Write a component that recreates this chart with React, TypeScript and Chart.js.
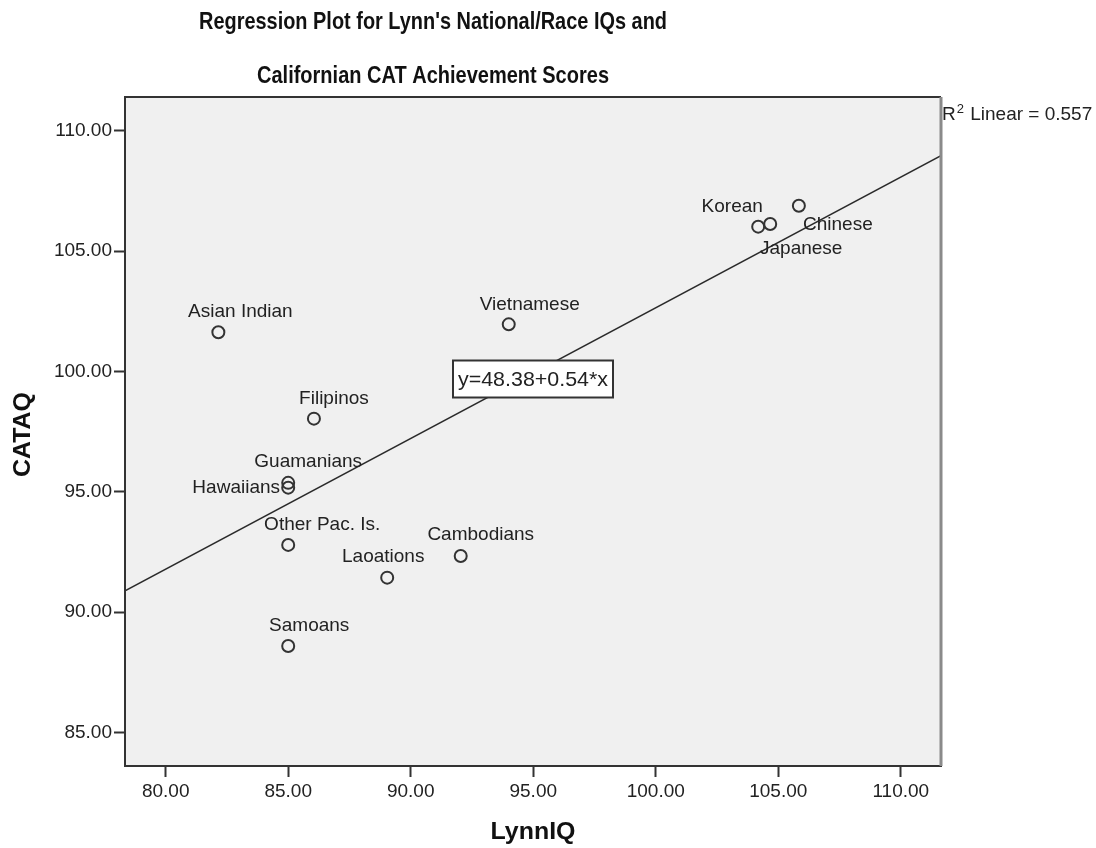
import React, { useEffect, useRef } from "react";
import { Chart, registerables } from "chart.js";

Chart.register(...registerables);

const GROUPS = [
  "Asian Indian",
  "Filipinos",
  "Vietnamese",
  "Guamanians",
  "Hawaiians",
  "Other Pac. Is.",
  "Laoations",
  "Cambodians",
  "Samoans",
  "Korean",
  "Japanese",
  "Chinese",
];
const LYNN_IQ = [82.15, 86.05, 94.0, 85.0, 85.0, 85.0, 89.04, 92.04, 85.0, 104.18, 104.67, 105.84];
const CATAQ = [101.63, 98.04, 101.96, 95.37, 95.17, 92.79, 91.43, 92.33, 88.59, 106.02, 106.13, 106.89];

// label placement (pixel offset of label centre from its point)
const LABEL_OFFSETS: [number, number][] = [
  [22, -21],
  [20, -20],
  [21, -20],
  [20, -21],
  [-52, 0],
  [34, -20],
  [-4, -21],
  [20, -21],
  [21, -20],
  [-26, -20],
  [31, 25],
  [39, 19],
];

const X_TICKS = [80, 85, 90, 95, 100, 105, 110];
const Y_TICKS = [85, 90, 95, 100, 105, 110];
const X_MIN = 78.34;
const X_MAX = 111.64;
const Y_MIN = 83.6;
const Y_MAX = 111.41;

const TITLE_LINES = ["Regression Plot for Lynn's National/Race IQs and", "Californian CAT Achievement Scores"];
const X_TITLE = "LynnIQ";
const Y_TITLE = "CATAQ";
const EQUATION = "y=48.38+0.54*x";
const R2_TEXT = " Linear = 0.557";

const FONT = "'Liberation Sans', Arial, sans-serif";

function ols(xs: number[], ys: number[]) {
  const n = xs.length;
  const mx = xs.reduce((a, b) => a + b, 0) / n;
  const my = ys.reduce((a, b) => a + b, 0) / n;
  let sxy = 0,
    sxx = 0;
  for (let i = 0; i < n; i++) {
    sxy += (xs[i] - mx) * (ys[i] - my);
    sxx += (xs[i] - mx) * (xs[i] - mx);
  }
  const b = sxy / sxx;
  return { a: my - b * mx, b };
}

function fitText(ctx: CanvasRenderingContext2D, text: string, cx: number, cy: number, width: number) {
  const w = ctx.measureText(text).width;
  ctx.save();
  ctx.translate(cx, cy);
  ctx.scale(width / w, 1);
  ctx.textAlign = "center";
  ctx.fillText(text, 0, 0);
  ctx.restore();
}

export default function App() {
  const ref = useRef<HTMLCanvasElement | null>(null);

  useEffect(() => {
    document.body.style.margin = "0";
    const canvas = ref.current!;
    const { a, b } = ols(LYNN_IQ, CATAQ);

    const decor = {
      id: "decor",
      beforeDatasetsDraw(chart: any) {
        const { ctx, chartArea: ca } = chart;
        ctx.save();
        ctx.fillStyle = "#f0f0f0";
        ctx.fillRect(ca.left, ca.top, ca.right - ca.left, ca.bottom - ca.top);
        ctx.restore();
      },
      afterDatasetsDraw(chart: any) {
        const { ctx, chartArea: ca } = chart;
        const meta = chart.getDatasetMeta(0);
        ctx.save();
        ctx.fillStyle = "#222";
        ctx.font = `19px ${FONT}`;
        ctx.textAlign = "center";
        ctx.textBaseline = "middle";
        meta.data.forEach((pt: any, i: number) => {
          const [dx, dy] = LABEL_OFFSETS[i];
          ctx.fillText(GROUPS[i], pt.x + dx, pt.y + dy);
        });

        // equation box
        const cx = (ca.left + ca.right) / 2;
        const cy = ca.top + 282;
        ctx.font = `21px ${FONT}`;
        const bw = 160,
          bh = 37;
        ctx.fillStyle = "#ffffff";
        ctx.fillRect(cx - bw / 2, cy - bh / 2, bw, bh);
        ctx.strokeStyle = "#333";
        ctx.lineWidth = 2;
        ctx.strokeRect(cx - bw / 2, cy - bh / 2, bw, bh);
        ctx.fillStyle = "#222";
        fitText(ctx, EQUATION, cx, cy + 1, 150);

        // frame
        ctx.strokeStyle = "#333";
        ctx.lineWidth = 2;
        ctx.beginPath();
        ctx.moveTo(ca.left, ca.bottom);
        ctx.lineTo(ca.left, ca.top);
        ctx.lineTo(ca.right, ca.top);
        ctx.stroke();
        ctx.beginPath();
        ctx.moveTo(ca.left, ca.bottom);
        ctx.lineTo(ca.right, ca.bottom);
        ctx.stroke();
        ctx.strokeStyle = "#8a8a8a";
        ctx.lineWidth = 3;
        ctx.beginPath();
        ctx.moveTo(ca.right, ca.top);
        ctx.lineTo(ca.right, ca.bottom);
        ctx.stroke();
        ctx.restore();
      },
      afterDraw(chart: any) {
        const { ctx, chartArea: ca } = chart;
        ctx.save();
        ctx.fillStyle = "#111";
        ctx.textBaseline = "alphabetic";
        ctx.font = `bold 24px ${FONT}`;
        fitText(ctx, TITLE_LINES[0], 433, 29, 468);
        fitText(ctx, TITLE_LINES[1], 433, 83, 352);

        ctx.textBaseline = "middle";
        ctx.font = `bold 24px ${FONT}`;
        fitText(ctx, X_TITLE, (ca.left + ca.right) / 2, 832, 85);
        ctx.save();
        ctx.translate(23, (ca.top + ca.bottom) / 2 + 3);
        ctx.rotate(-Math.PI / 2);
        fitText(ctx, Y_TITLE, 0, 0, 85);
        ctx.restore();

        // R^2 annotation
        ctx.fillStyle = "#222";
        ctx.textAlign = "left";
        ctx.font = `19px ${FONT}`;
        const rx = ca.right + 1;
        const ry = ca.top + 18;
        ctx.fillText("R", rx, ry);
        const rw = ctx.measureText("R").width;
        ctx.font = `13px ${FONT}`;
        ctx.fillText("2", rx + rw + 1, ry - 6);
        const sw = ctx.measureText("2").width;
        ctx.font = `19px ${FONT}`;
        ctx.fillText(R2_TEXT, rx + rw + sw + 2, ry);
        ctx.restore();
      },
    };

    const tickCommon = {
      color: "#222",
      font: { family: FONT, size: 19 },
    };

    const chart = new Chart(canvas, {
      type: "scatter",
      data: {
        datasets: [
          {
            label: "points",
            data: LYNN_IQ.map((x, i) => ({ x, y: CATAQ[i] })),
            pointStyle: "circle",
            pointRadius: 6,
            pointBorderWidth: 2,
            borderColor: "#333",
            backgroundColor: "rgba(0,0,0,0)",
            order: 1,
          },
          {
            label: "fit",
            type: "line",
            data: [
              { x: X_MIN, y: a + b * X_MIN },
              { x: X_MAX, y: a + b * X_MAX },
            ],
            showLine: true,
            pointRadius: 0,
            borderColor: "#2a2a2a",
            borderWidth: 1.6,
            fill: false,
            order: 2,
          } as any,
        ],
      },
      options: {
        responsive: false,
        animation: false,
        devicePixelRatio: 1,
        layout: { padding: { left: 0, top: 97, right: 155, bottom: 0 } },
        plugins: {
          legend: { display: false },
          title: { display: false },
          tooltip: { enabled: false },
        },
        scales: {
          x: {
            type: "linear",
            position: "bottom",
            min: X_MIN,
            max: X_MAX,
            grid: {
              display: true,
              drawOnChartArea: false,
              drawTicks: true,
              tickLength: 11,
              tickWidth: 2,
              tickColor: "#333",
            },
            border: { display: true, color: "#333", width: 2 },
            ticks: {
              ...tickCommon,
              padding: 3,
              maxRotation: 0,
              callback: (v: any) => Number(v).toFixed(2),
            },
            afterBuildTicks: (s: any) => {
              s.ticks = X_TICKS.map((v) => ({ value: v }));
            },
            afterFit: (s: any) => {
              s.height = 82;
            },
          },
          y: {
            type: "linear",
            min: Y_MIN,
            max: Y_MAX,
            grid: {
              display: true,
              drawOnChartArea: false,
              drawTicks: true,
              tickLength: 11,
              tickWidth: 2,
              tickColor: "#333",
            },
            border: { display: true, color: "#333", width: 2 },
            ticks: {
              ...tickCommon,
              padding: 2,
              callback: (v: any) => Number(v).toFixed(2),
            },
            afterBuildTicks: (s: any) => {
              s.ticks = Y_TICKS.map((v) => ({ value: v }));
            },
            afterFit: (s: any) => {
              s.width = 125;
            },
          },
        },
      },
      plugins: [decor],
    } as any);

    return () => chart.destroy();
  }, []);

  return (
    <div style={{ width: 1096, height: 848, background: "#fff" }}>
      <canvas ref={ref} width={1096} height={848} style={{ display: "block" }} />
    </div>
  );
}
